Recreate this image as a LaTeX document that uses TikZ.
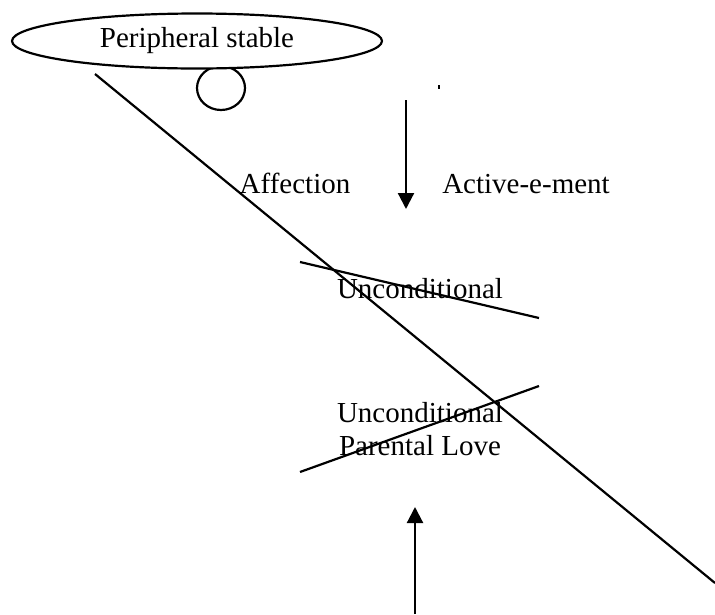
\documentclass[tikz,border=0pt]{standalone}
\usepackage{fontspec}
\setmainfont{Liberation Serif}
\usetikzlibrary{arrows.meta,shapes.geometric}
\begin{document}
\begin{tikzpicture}[x=1pt,y=-1pt,
  every node/.style={font=\fontsize{29}{33}\selectfont, inner sep=0pt},
  ln/.style={line width=2.2pt},
  arr/.style={line width=2.2pt, -{Triangle[length=16pt,width=16pt]}},
  lbl/.style={anchor=base}]
\useasboundingbox (0,0) rectangle (715,614);
% small circle below the ellipse
\node[ellipse, draw, line width=2.2pt, minimum width=48pt, minimum height=44pt] (ring) at (221,88) {};
% ellipse
\node[ellipse, draw, fill=white, line width=2.2pt, minimum width=370pt, minimum height=55pt] (per) at (197,41) {Peripheral stable};
% long diagonal
\coordinate (d1) at (95,74);
\coordinate (d2) at (715,583);
\draw[ln] (d1) -- (d2);
% tick
\coordinate (t1) at (439,85);
\coordinate (t2) at (439,89);
\draw[line width=1.6pt] (t1) -- (t2);
% down arrow
\coordinate (a1) at (406,100);
\coordinate (a2) at (406,209);
\draw[arr] (a1) -- (a2);
% labels
\node[lbl] (aff) at (295,193) {Affection};
\node[lbl] (act) at (526,193) {Active-e-ment};
\node[lbl] (unc) at (420,298) {Unconditional};
\node[lbl] (unc2) at (420,422) {Unconditional};
\node[lbl] (par) at (420,455) {Parental Love};
% crossing lines
\coordinate (c1) at (300,262);
\coordinate (c2) at (539,318);
\draw[ln] (c1) -- (c2);
\coordinate (e1) at (300,472);
\coordinate (e2) at (539,386);
\draw[ln] (e1) -- (e2);
% up arrow
\coordinate (u1) at (415,614);
\coordinate (u2) at (415,507);
\draw[arr] (u1) -- (u2);
\end{tikzpicture}
\end{document}
